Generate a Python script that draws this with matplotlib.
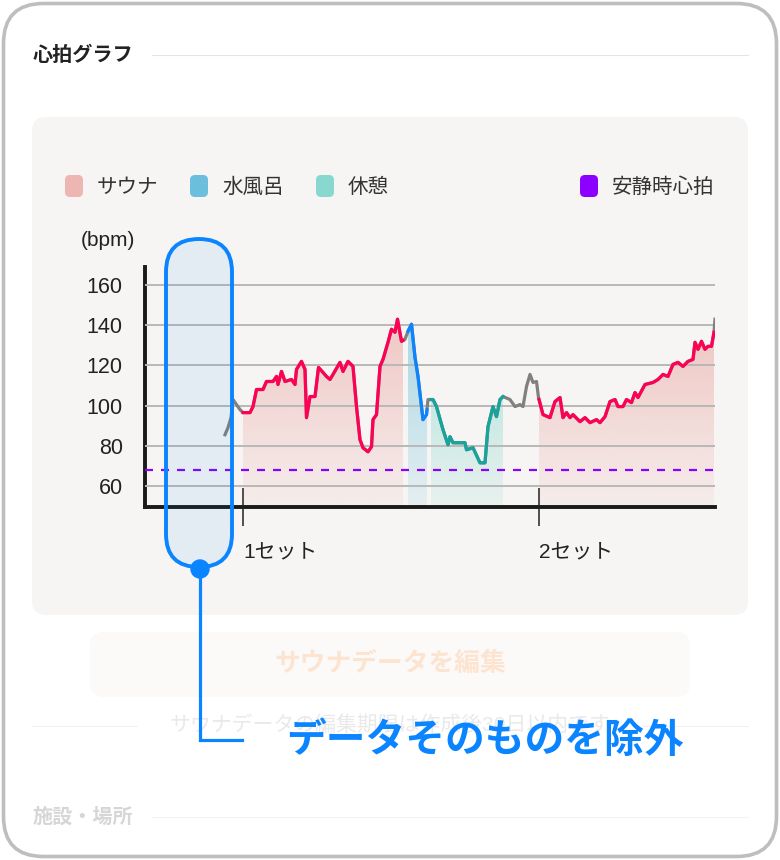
import numpy as np
import matplotlib
matplotlib.use("Agg")
import matplotlib.pyplot as plt
from matplotlib.patches import FancyBboxPatch, Circle
from matplotlib.colors import to_rgb

plt.rcParams["font.family"] = ["Liberation Sans", "Noto Sans CJK JP", "DejaVu Sans"]

# heart rate trace (minutes, bpm)
time_min = [16.0, 16.6, 17.2, 17.6, 18.3, 19.0, 19.6,
            21.0, 21.6, 22.3, 23.6, 24.3, 25.6, 26.3, 26.6, 27.3, 28.0, 29.3, 30.0,
            30.3, 31.3, 32.0, 32.3, 33.0, 34.0, 34.7, 35.6, 36.3, 37.0, 37.6, 39.0,
            39.6, 40.6, 41.6, 42.3, 43.0, 43.6, 44.6, 45.3, 45.6, 46.3, 47.0, 47.6,
            48.6, 49.3, 50.0, 50.5, 51.3,
            52.0, 52.6,
            53.3, 54.0, 54.6, 55.6, 56.3,
            56.6, 57.6, 58.3,
            59.6, 60.6, 61.0, 61.6, 64.0, 64.3, 65.6, 67.0, 68.0, 68.6, 69.6, 70.3,
            71.0, 71.6,
            73.0, 74.0, 75.0, 75.6, 76.3, 77.0, 77.6, 78.3, 78.7,
            79.6, 81.0, 82.0, 83.0, 83.6, 84.3, 85.0, 85.6, 87.0, 88.0, 89.0, 90.3,
            91.0, 92.0, 93.0, 94.0, 94.6, 95.6, 96.3, 97.3, 98.0, 98.6, 100.0, 101.6,
            102.6, 103.6, 104.6, 105.6, 106.6, 107.6, 108.6, 109.6, 110.0, 110.6,
            111.3, 112.0, 112.6, 113.3, 113.8,
            114.0]
heart_rate = [85.5, 89, 94, 103, 100.5, 98, 96.5,
              96.5, 99.5, 108, 108, 112, 112, 114.5, 110.5, 117, 112, 113, 110.5,
              118, 122, 118, 94, 104.5, 104.5, 119, 116.5, 114.5, 113, 115.5, 121.5,
              117, 122, 119.5, 99.5, 83, 79, 77, 79.5, 93, 95.5, 119.5, 123,
              131.5, 138, 136.5, 143, 132,
              133, 137,
              140.5, 124, 114.5, 93, 95.5,
              103, 103, 99.5,
              88, 80.5, 84.5, 81.5, 81.5, 78, 79, 71.5, 71.5, 89.5, 99.5, 94.5,
              103, 104.5,
              103, 99.5, 100.5, 99.5, 109.5, 115.5, 111.5, 112, 104,
              95.5, 94, 102, 104, 94, 96.5, 94, 95.5, 92, 94, 91.5, 93,
              91.5, 94.5, 102, 103, 99.5, 99.5, 103, 101.5, 106.5, 104, 110.5, 111.5,
              113, 115.5, 114.5, 120.5, 121.5, 119.5, 122, 123, 131.5, 128,
              132, 128, 129.5, 129.5, 136.5,
              143]

# phases
phase_kind = ["sauna", "water", "rest", "sauna"]
phase_start = [19.6, 52.6, 57.2, 78.8]
phase_end = [51.6, 56.4, 71.6, 113.8]

resting_hr = 68
set_ticks = [19.6, 78.8]
set_labels = ["1セット", "2セット"]
y_ticks = [60, 80, 100, 120, 140, 160]

legend_labels = ["サウナ", "水風呂", "休憩", "安静時心拍"]
legend_colors = ["#EDB6B3", "#6BBFDC", "#88D8CF", "#8B00FF"]

line_colors = {"sauna": "#FF0055", "water": "#0A84FF", "rest": "#18A39C"}
fill_colors = {"sauna": ("#EDB6B3", 0.72), "water": ("#6BBFDC", 0.55), "rest": ("#88D8CF", 0.45)}

BLUE = "#0A84FF"
Y_MIN, Y_MAX = 49.5, 169
X_MIN, X_MAX = 0, 114

fig = plt.figure(figsize=(7.8, 8.6), dpi=100)
fig.patch.set_facecolor("white")

# page background, drawn in pixel coordinates
bg = fig.add_axes([0, 0, 1, 1], zorder=0)
bg.set_xlim(0, 780)
bg.set_ylim(860, 0)
bg.axis("off")

bg.add_patch(FancyBboxPatch((3.5, 3.5), 773, 853, boxstyle="round,pad=0,rounding_size=40",
                            fc="white", ec="#BEBEBE", lw=2.6))
bg.text(33, 55, "心拍グラフ", fontsize=14.5, fontweight="bold", color="#222222",
        va="center", ha="left")
bg.plot([152, 748], [55, 55], color="#E4E4E4", lw=0.8)
bg.add_patch(FancyBboxPatch((32, 117), 716, 498, boxstyle="round,pad=0,rounding_size=14",
                            fc="#F6F5F3", ec="none"))

legend_x = [65, 190, 316, 580]
for lx, lab, col in zip(legend_x, legend_labels, legend_colors):
    bg.add_patch(FancyBboxPatch((lx, 175), 18, 22, boxstyle="round,pad=0,rounding_size=5",
                                fc=col, ec="none"))
    bg.text(lx + 32, 187, lab, fontsize=14.8, color="#333333", va="center", ha="left")

bg.text(81, 241, "(bpm)", fontsize=15, color="#222222", va="center", ha="left")

# faded elements under the annotation
bg.add_patch(FancyBboxPatch((90, 632), 600, 65, boxstyle="round,pad=0,rounding_size=14",
                            fc="#FBFAF9", ec="none"))
bg.text(390, 664, "サウナデータを編集", fontsize=18.5, fontweight="bold", color="#FDE4D0",
        va="center", ha="center")
bg.text(390, 725, "サウナデータの編集期限は作成後30日以内です", fontsize=15, color="#E9E9E9",
        va="center", ha="center")
bg.plot([32, 137], [726, 726], color="#F1F1F1", lw=0.8)
bg.plot([643, 748], [726, 726], color="#F1F1F1", lw=0.8)
bg.text(33, 817, "施設・場所", fontsize=14.5, fontweight="bold", color="#D6D6D6",
        va="center", ha="left")
bg.plot([152, 748], [817, 817], color="#F3F3F3", lw=0.8)

# heart rate chart
ax = fig.add_axes([145 / 780, 1 - 507 / 860, 570 / 780, 240 / 860], zorder=1)
ax.patch.set_alpha(0)

t = np.array(time_min)
hr = np.array(heart_rate)

ax.plot(t, hr, color="#808080", lw=2.3, zorder=3, solid_joinstyle="round")

for kind, s, e in zip(phase_kind, phase_start, phase_end):
    mask = (t > s) & (t < e)
    tt = np.concatenate([[s], t[mask], [e]])
    hh = np.interp(tt, t, hr)
    poly = ax.fill_between(tt, hh, Y_MIN, color="none", lw=0)
    col, a_top = fill_colors[kind]
    img = np.zeros((100, 1, 4))
    img[:, :, :3] = to_rgb(col)
    img[:, 0, 3] = np.linspace(0.12, a_top, 100)
    im = ax.imshow(img, aspect="auto", origin="lower", interpolation="bilinear",
                   extent=[s, e, Y_MIN, hh.max()], zorder=1)
    im.set_clip_path(poly.get_paths()[0], transform=ax.transData)
    ax.plot(tt, hh, color=line_colors[kind], lw=2.3, zorder=3, solid_joinstyle="round")

ax.axhline(resting_hr, color="#8B00FF", lw=1.6, ls=(0, (3.6, 3.6)), zorder=2.8)

ax.set_xlim(X_MIN, X_MAX)
ax.set_ylim(Y_MIN, Y_MAX)
ax.set_yticks(y_ticks)
ax.grid(axis="y", color="#B8B8B8", lw=1.4)
ax.set_axisbelow(False)
ax.tick_params(axis="y", length=0, pad=16, labelsize=15.5, labelcolor="#222222")
ax.set_xticks(set_ticks)
ax.set_xticklabels(set_labels, ha="left", fontsize=15, color="#222222")
ax.tick_params(axis="x", direction="inout", length=27, width=1.1, color="#222222", pad=12)
for side in ["top", "right"]:
    ax.spines[side].set_visible(False)
for side in ["left", "bottom"]:
    ax.spines[side].set_linewidth(2.8)
    ax.spines[side].set_color("#1A1A1A")

# annotation overlay
ov = fig.add_axes([0, 0, 1, 1], zorder=2)
ov.set_xlim(0, 780)
ov.set_ylim(860, 0)
ov.axis("off")
ov.patch.set_alpha(0)
ov.add_patch(FancyBboxPatch((166, 239), 66, 328, boxstyle="round,pad=0,rounding_size=33",
                            fc=(10 / 255, 132 / 255, 1, 0.08), ec=BLUE, lw=2.8))
ov.plot([200, 200, 242], [569, 740, 740], color=BLUE, lw=2.3, solid_joinstyle="miter")
ov.add_patch(Circle((200, 569), 9, color=BLUE))
ov.text(286, 740, "データそのものを除外", fontsize=28.6, fontweight="bold", color=BLUE,
        va="center", ha="left", family=["Noto Sans CJK JP"])

fig.savefig("out.png", dpi=100, facecolor="white")
